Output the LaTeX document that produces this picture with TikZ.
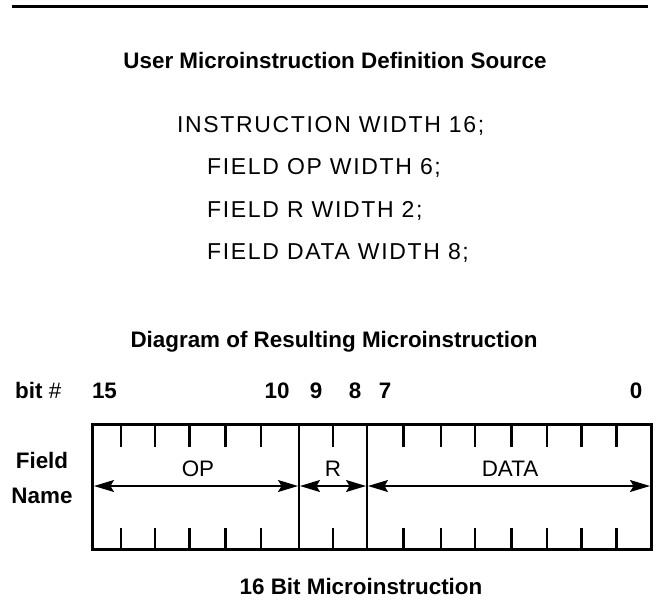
\documentclass[tikz,border=0pt]{standalone}
\usepackage{fontspec}
\setmainfont{Liberation Sans}
\newfontfamily\codefont[LetterSpace=7.2]{Liberation Sans}
\usetikzlibrary{arrows.meta}
\begin{document}
\begin{tikzpicture}[x=1pt,y=-1pt,
  ttl/.style={font=\fontsize{22.4}{26}\selectfont\bfseries, inner sep=0, anchor=base},
  codeline/.style={font=\fontsize{23}{26}\selectfont\codefont, inner sep=0, anchor=base west},
  num/.style={font=\fontsize{22.4}{26}\selectfont\bfseries, inner sep=0, anchor=base},
  fld/.style={font=\fontsize{22.4}{26}\selectfont, inner sep=0, anchor=base},
  rulestyle/.style={line width=3pt, line cap=butt},
  frame/.style={line width=3.2pt},
  divider/.style={line width=2pt},
  tickmark/.style={line width=2.6pt},
  dimarrow/.style={line width=1.5pt, {Stealth[length=20pt,width=12pt,inset=3.5pt]}-{Stealth[length=20pt,width=12pt,inset=3.5pt]}}
]
\useasboundingbox (0,0) rectangle (660,613);

% top rule
\coordinate (ruleL) at (12,6);
\coordinate (ruleR) at (648,6);
\draw[rulestyle] (ruleL) -- (ruleR);

% heading and source
\node[ttl] (title) at (335,68) {User Microinstruction Definition Source};
\node[codeline] (c1) at (177,132) {INSTRUCTION WIDTH 16;};
\node[codeline] (c2) at (207,174.5) {FIELD OP WIDTH 6;};
\node[codeline] (c3) at (207,217) {FIELD R WIDTH 2;};
\node[codeline] (c4) at (207,259.5) {FIELD DATA WIDTH 8;};

\node[ttl] (dtitle) at (334,347) {Diagram of Resulting Microinstruction};

% bit numbers
\node[num, anchor=base west] (bitlbl) at (15,398) {bit {\mdseries\#}};
\node[num] (n15) at (104.5,398) {15};
\node[num] (n10) at (277,398) {10};
\node[num] (n9) at (316,398) {9};
\node[num] (n8) at (355,398) {8};
\node[num] (n7) at (385,398) {7};
\node[num] (n0) at (636,398) {0};

% field name label
\node[num] (fieldlbl) at (42,468) {Field};
\node[num] (namelbl) at (42,503) {Name};

% box
\coordinate (boxNW) at (92.5,424.5);
\coordinate (boxSE) at (651.5,549.5);
\draw[frame] (boxNW) rectangle (boxSE);

% dividers
\coordinate (d1t) at (299,424.5);
\coordinate (d1b) at (299,549.5);
\coordinate (d2t) at (367,424.5);
\coordinate (d2b) at (367,549.5);
\draw[divider] (d1t) -- (d1b);
\draw[divider] (d2t) -- (d2b);

% ticks
\foreach \tx in {121,155,189.5,225.5,261,333,403.5,441,475,511.5,547,581.5,616.5} {
  \draw[tickmark] (\tx,424.5) -- (\tx,447);
  \draw[tickmark] (\tx,528) -- (\tx,549.5);
}

% field labels
\node[fld] (op) at (198,476) {OP};
\node[fld] (r) at (333,476) {R};
\node[fld] (data) at (510,476) {DATA};

% dimension arrows
\coordinate (a0) at (94,486);
\coordinate (a1) at (298,486);
\coordinate (a1r) at (300,486);
\coordinate (a2) at (366,486);
\coordinate (a2r) at (368,486);
\coordinate (a3) at (650,486);
\draw[dimarrow] (a0) -- (a1);
\draw[dimarrow] (a1r) -- (a2);
\draw[dimarrow] (a2r) -- (a3);

\node[ttl] (caption) at (361,594) {16 Bit Microinstruction};
\end{tikzpicture}
\end{document}
